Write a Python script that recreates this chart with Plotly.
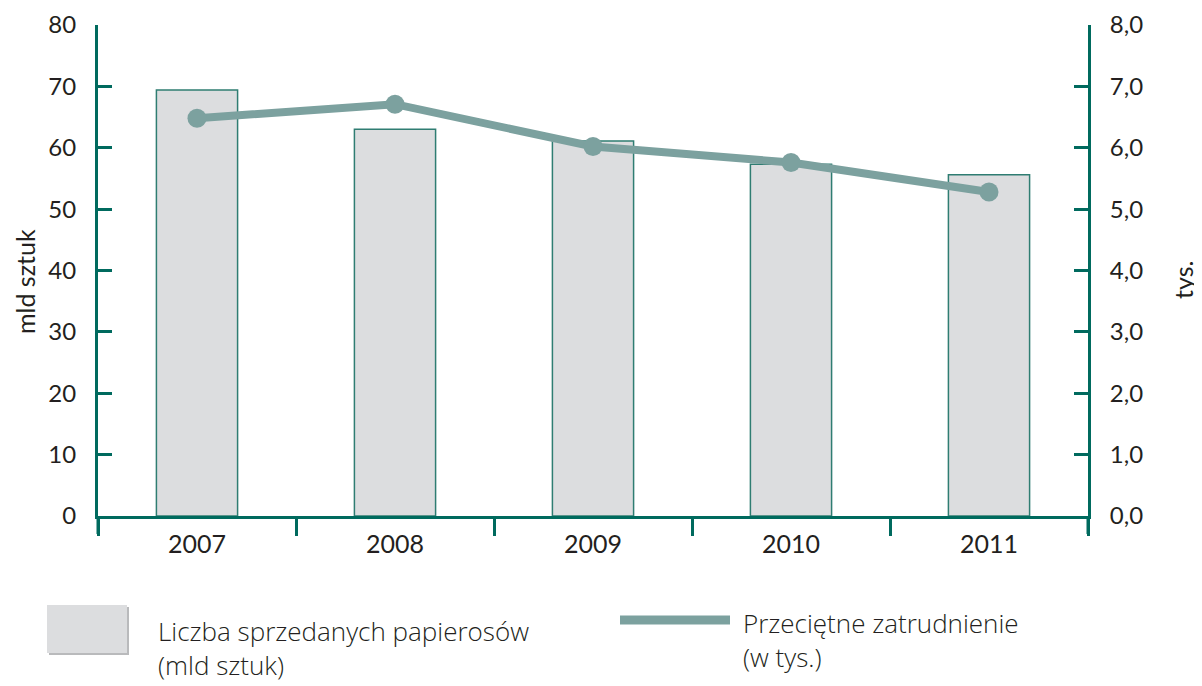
import plotly.graph_objects as go

years = ["2007", "2008", "2009", "2010", "2011"]
sales = [69.4, 63.0, 61.1, 57.3, 55.6]          # mld sztuk
employment = [6.48, 6.71, 6.02, 5.76, 5.28]     # tys.
left_ticks = [0, 10, 20, 30, 40, 50, 60, 70, 80]
right_ticks = [0, 1, 2, 3, 4, 5, 6, 7, 8]

AX = "#006a5e"
LINE = "#7ca19f"
BAR = "#dcdddf"
TXT = "#231f20"
FONT = "Lato"
LFONT = "Open Sans"

fig = go.Figure()
fig.add_trace(go.Bar(x=years, y=sales, width=0.41, marker=dict(color=BAR, line=dict(color="#2f7d72", width=1.5)),
                     showlegend=False, yaxis="y"))
fig.add_trace(go.Scatter(x=years, y=employment, mode="lines+markers", yaxis="y2",
                         line=dict(color=LINE, width=8), marker=dict(color=LINE, size=19),
                         showlegend=False))

OFF = 8  # page body margin
W, H = 1202 - OFF, 686 - OFF
L, R, T, B = 98, 1088, 25, 516   # page pixels of plot area
def px(x): return (x - L) / (R - L)
def py(y): return (B - y) / (B - T)

fig.update_layout(
    width=W, height=H, separators=", ",
    margin=dict(l=L - OFF, r=W - (R - OFF), t=T - OFF, b=H - (B - OFF), autoexpand=False),
    plot_bgcolor="white", paper_bgcolor="white",
    font=dict(family=FONT, color=TXT, size=24),
    bargap=0.59,
    xaxis=dict(type="category", range=[-0.5, 4.5], showline=True, linecolor=AX, linewidth=3,
               ticks="outside", tickson="boundaries", ticklen=17, tickwidth=3, tickcolor=AX,
               showgrid=False, tickfont=dict(size=25, color=TXT), fixedrange=True, automargin=False,
               ticklabelstandoff=4),
    yaxis=dict(range=[0, 80], tickvals=left_ticks, showline=True, linecolor=AX, linewidth=3,
               ticks="inside", ticklen=14, tickwidth=3, tickcolor=AX, showgrid=False, zeroline=False,
               tickfont=dict(size=24, color=TXT), ticklabelstandoff=14, automargin=False),
    yaxis2=dict(range=[0, 8], tickvals=right_ticks, tickformat=".1f", overlaying="y", side="right",
                showline=True, linecolor=AX, linewidth=3, ticks="inside", ticklen=14, tickwidth=3,
                tickcolor=AX, showgrid=False, zeroline=False,
                tickfont=dict(size=24, color=TXT), ticklabelstandoff=14, automargin=False),
)

# axis line extensions below x-axis (like reference)
for xp in [0, 1]:
    fig.add_shape(type="line", xref="paper", yref="paper", x0=xp, x1=xp, y0=0, y1=py(534),
                  line=dict(color=AX, width=3))

# axis titles
fig.add_annotation(text="mld sztuk", xref="paper", yref="paper", x=px(25), y=py(282), textangle=-90,
                   showarrow=False, font=dict(size=25, color=TXT), xanchor="center", yanchor="middle")
fig.add_annotation(text="tys.", xref="paper", yref="paper", x=px(1183), y=py(280), textangle=-90,
                   showarrow=False, font=dict(size=25, color=TXT), xanchor="center", yanchor="middle")

# legend
fig.add_shape(type="rect", xref="paper", yref="paper", x0=px(49), x1=px(129), y0=py(655), y1=py(607),
              line=dict(width=0), fillcolor="#b9babc")
fig.add_shape(type="rect", xref="paper", yref="paper", x0=px(47), x1=px(127), y0=py(653), y1=py(605),
              line=dict(width=0), fillcolor=BAR)
fig.add_annotation(text="Liczba sprzedanych papierosów<br>(mld sztuk)", xref="paper", yref="paper",
                   x=px(156), y=py(648), xanchor="left", yanchor="middle", align="left", showarrow=False,
                   font=dict(family=LFONT, size=26, color=TXT, weight=300))
fig.add_shape(type="line", xref="paper", yref="paper", x0=px(620), x1=px(730), y0=py(620), y1=py(620),
              line=dict(color=LINE, width=9))
fig.add_annotation(text="Przeciętne zatrudnienie<br>(w tys.)", xref="paper", yref="paper",
                   x=px(741), y=py(640), xanchor="left", yanchor="middle", align="left", showarrow=False,
                   font=dict(family=LFONT, size=26, color=TXT, weight=300))

fig.write_html("out.html")
